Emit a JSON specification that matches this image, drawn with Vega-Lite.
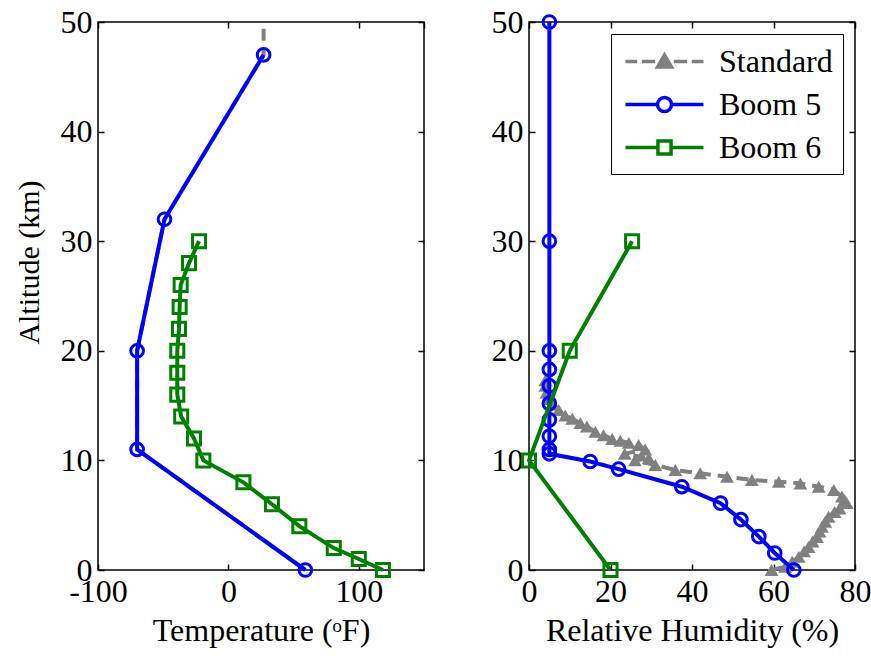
{
  "$schema": "https://vega.github.io/schema/vega-lite/v6.json",
  "padding": {"left": 13, "top": 5, "right": 5, "bottom": 5},
  "spacing": 64,
  "resolve": {"scale": {"color": "independent", "shape": "independent"}, "legend": {"color": "independent", "shape": "independent"}},
  "datasets": {
    "temp": [
      {"series": "Standard", "temp": 59, "alt": 0},
      {"series": "Standard", "temp": -70, "alt": 11},
      {"series": "Standard", "temp": -70, "alt": 20},
      {"series": "Standard", "temp": -49, "alt": 32},
      {"series": "Standard", "temp": 27, "alt": 47},
      {"series": "Standard", "temp": 27, "alt": 50},
      {"series": "Boom 5", "temp": 59, "alt": 0},
      {"series": "Boom 5", "temp": -70, "alt": 11},
      {"series": "Boom 5", "temp": -70, "alt": 20},
      {"series": "Boom 5", "temp": -49, "alt": 32},
      {"series": "Boom 5", "temp": 27, "alt": 47},
      {"series": "Boom 6", "temp": 118.5, "alt": 0},
      {"series": "Boom 6", "temp": 100, "alt": 1},
      {"series": "Boom 6", "temp": 80.8, "alt": 2},
      {"series": "Boom 6", "temp": 54.4, "alt": 4},
      {"series": "Boom 6", "temp": 33.4, "alt": 6},
      {"series": "Boom 6", "temp": 11.5, "alt": 8},
      {"series": "Boom 6", "temp": -19.2, "alt": 10},
      {"series": "Boom 6", "temp": -26.4, "alt": 12},
      {"series": "Boom 6", "temp": -36.2, "alt": 14},
      {"series": "Boom 6", "temp": -39.2, "alt": 16},
      {"series": "Boom 6", "temp": -39.2, "alt": 18},
      {"series": "Boom 6", "temp": -39.2, "alt": 20},
      {"series": "Boom 6", "temp": -37.9, "alt": 22},
      {"series": "Boom 6", "temp": -37.4, "alt": 24},
      {"series": "Boom 6", "temp": -36.6, "alt": 26},
      {"series": "Boom 6", "temp": -30.2, "alt": 28},
      {"series": "Boom 6", "temp": -22.5, "alt": 30}
    ],
    "rh": [
      {"series": "Standard", "rh": 59.5, "alt": 0},
      {"series": "Standard", "rh": 62.9, "alt": 0.3},
      {"series": "Standard", "rh": 64.6, "alt": 0.75},
      {"series": "Standard", "rh": 66.2, "alt": 1.2},
      {"series": "Standard", "rh": 67.5, "alt": 1.7},
      {"series": "Standard", "rh": 68.6, "alt": 2.1},
      {"series": "Standard", "rh": 69.6, "alt": 2.6},
      {"series": "Standard", "rh": 70.7, "alt": 3.0},
      {"series": "Standard", "rh": 71.3, "alt": 3.5},
      {"series": "Standard", "rh": 71.9, "alt": 3.95},
      {"series": "Standard", "rh": 72.7, "alt": 4.4},
      {"series": "Standard", "rh": 73.5, "alt": 4.86},
      {"series": "Standard", "rh": 75.0, "alt": 5.3},
      {"series": "Standard", "rh": 76.2, "alt": 5.6},
      {"series": "Standard", "rh": 78.0, "alt": 6.1},
      {"series": "Standard", "rh": 77.4, "alt": 6.4},
      {"series": "Standard", "rh": 76.8, "alt": 6.7},
      {"series": "Standard", "rh": 74.8, "alt": 7.3},
      {"series": "Standard", "rh": 71.1, "alt": 7.6},
      {"series": "Standard", "rh": 66.6, "alt": 7.9},
      {"series": "Standard", "rh": 61.3, "alt": 8.06},
      {"series": "Standard", "rh": 54.7, "alt": 8.21},
      {"series": "Standard", "rh": 48.6, "alt": 8.51},
      {"series": "Standard", "rh": 42.0, "alt": 8.82},
      {"series": "Standard", "rh": 35.9, "alt": 9.12},
      {"series": "Standard", "rh": 31.0, "alt": 9.58},
      {"series": "Standard", "rh": 26.0, "alt": 10.0},
      {"series": "Standard", "rh": 29.4, "alt": 10.2},
      {"series": "Standard", "rh": 23.5, "alt": 10.6},
      {"series": "Standard", "rh": 28.5, "alt": 11.0},
      {"series": "Standard", "rh": 26.9, "alt": 11.4},
      {"series": "Standard", "rh": 24.5, "alt": 11.6},
      {"series": "Standard", "rh": 22.4, "alt": 11.8},
      {"series": "Standard", "rh": 20.4, "alt": 11.95},
      {"series": "Standard", "rh": 18.3, "alt": 12.3},
      {"series": "Standard", "rh": 16.3, "alt": 12.6},
      {"series": "Standard", "rh": 14.2, "alt": 13.1},
      {"series": "Standard", "rh": 12.6, "alt": 13.4},
      {"series": "Standard", "rh": 10.6, "alt": 13.8},
      {"series": "Standard", "rh": 8.9, "alt": 14.1},
      {"series": "Standard", "rh": 7.3, "alt": 14.6},
      {"series": "Standard", "rh": 6.0, "alt": 15.1},
      {"series": "Standard", "rh": 5.0, "alt": 15.6},
      {"series": "Standard", "rh": 4.3, "alt": 16.2},
      {"series": "Standard", "rh": 4.0, "alt": 16.8},
      {"series": "Standard", "rh": 4.0, "alt": 17.3},
      {"series": "Boom 5", "rh": 65, "alt": 0},
      {"series": "Boom 5", "rh": 60.3, "alt": 1.55},
      {"series": "Boom 5", "rh": 56.4, "alt": 3.05},
      {"series": "Boom 5", "rh": 52, "alt": 4.6},
      {"series": "Boom 5", "rh": 47, "alt": 6.1},
      {"series": "Boom 5", "rh": 37.5, "alt": 7.6},
      {"series": "Boom 5", "rh": 22, "alt": 9.2},
      {"series": "Boom 5", "rh": 15, "alt": 9.9},
      {"series": "Boom 5", "rh": 5, "alt": 10.6},
      {"series": "Boom 5", "rh": 5, "alt": 11.0},
      {"series": "Boom 5", "rh": 5, "alt": 12.2},
      {"series": "Boom 5", "rh": 5, "alt": 13.7},
      {"series": "Boom 5", "rh": 5, "alt": 15.2},
      {"series": "Boom 5", "rh": 5, "alt": 16.8},
      {"series": "Boom 5", "rh": 5, "alt": 18.3},
      {"series": "Boom 5", "rh": 5, "alt": 20},
      {"series": "Boom 5", "rh": 5, "alt": 30},
      {"series": "Boom 5", "rh": 5, "alt": 50},
      {"series": "Boom 6", "rh": 20, "alt": 0},
      {"series": "Boom 6", "rh": 0, "alt": 10},
      {"series": "Boom 6", "rh": 10, "alt": 20},
      {"series": "Boom 6", "rh": 25.3, "alt": 30}
    ]
  },
  "hconcat": [
    {
      "width": 326,
      "height": 548,
      "data": {"name": "temp"},
      "resolve": {"axis": {"x": "independent", "y": "independent"}},
      "layer": [
        {
          "transform": [{"filter": "datum.series === 'Standard'"}],
          "mark": {"type": "line", "color": "#808080", "strokeWidth": 4, "strokeDash": [12, 7]},
          "encoding": {
            "x": {"field": "temp", "type": "quantitative", "scale": {"domain": [-100, 150], "nice": false, "zero": false},
              "axis": {"values": [-100, 0, 100], "title": "Temperature (ᵒF)", "labelExpr": "replace(datum.label, '\u2212', '-')"}},
            "y": {"field": "alt", "type": "quantitative", "scale": {"domain": [0, 50], "nice": false},
              "axis": {"values": [0, 10, 20, 30, 40, 50], "title": "Altitude (km)", "titleFontSize": 30, "titlePadding": 16, "titleY": 240}},
            "order": {"field": "alt"}
          }
        },
        {
          "transform": [{"filter": "datum.series === 'Boom 5'"}],
          "mark": {"type": "line", "color": "#0000FF", "strokeWidth": 4},
          "encoding": {
            "x": {"field": "temp", "type": "quantitative",
              "axis": {"orient": "top", "values": [-100, 0, 100, 150], "labels": false, "title": null}},
            "y": {"field": "alt", "type": "quantitative",
              "axis": {"orient": "right", "values": [0, 10, 20, 30, 40, 50], "labels": false, "title": null}},
            "order": {"field": "alt"}
          }
        },
        {
          "transform": [{"filter": "datum.series === 'Boom 5'"}],
          "mark": {"type": "point", "shape": "circle", "filled": false, "color": "#0000FF", "strokeWidth": 3, "size": 160, "opacity": 1},
          "encoding": {
            "x": {"field": "temp", "type": "quantitative", "axis": null},
            "y": {"field": "alt", "type": "quantitative", "axis": null}
          }
        },
        {
          "transform": [{"filter": "datum.series === 'Boom 6'"}],
          "mark": {"type": "line", "color": "#008000", "strokeWidth": 4},
          "encoding": {
            "x": {"field": "temp", "type": "quantitative", "axis": null},
            "y": {"field": "alt", "type": "quantitative", "axis": null},
            "order": {"field": "alt"}
          }
        },
        {
          "transform": [{"filter": "datum.series === 'Boom 6'"}],
          "mark": {"type": "point", "shape": "square", "filled": false, "color": "#008000", "strokeWidth": 3, "size": 170, "opacity": 1},
          "encoding": {
            "x": {"field": "temp", "type": "quantitative", "axis": null},
            "y": {"field": "alt", "type": "quantitative", "axis": null}
          }
        }
      ]
    },
    {
      "width": 326,
      "height": 548,
      "data": {"name": "rh"},
      "resolve": {"axis": {"x": "independent", "y": "independent"}},
      "layer": [
        {
          "transform": [{"filter": "datum.series === 'Standard'"}],
          "mark": {"type": "line", "color": "#808080", "strokeWidth": 4, "strokeDash": [12, 7]},
          "encoding": {
            "x": {"field": "rh", "type": "quantitative", "scale": {"domain": [0, 80], "nice": false},
              "axis": {"values": [0, 20, 40, 60, 80], "title": "Relative Humidity (%)"}},
            "y": {"field": "alt", "type": "quantitative", "scale": {"domain": [0, 50], "nice": false},
              "axis": {"values": [0, 10, 20, 30, 40, 50], "title": null}},
            "order": {"field": "alt"}
          }
        },
        {
          "transform": [{"filter": "datum.series === 'Standard'"}],
          "mark": {"type": "point", "shape": "triangle-up", "filled": true, "color": "#808080", "size": 190, "opacity": 1},
          "encoding": {
            "x": {"field": "rh", "type": "quantitative",
              "axis": {"orient": "top", "values": [0, 20, 40, 60, 80], "labels": false, "title": null}},
            "y": {"field": "alt", "type": "quantitative",
              "axis": {"orient": "right", "values": [0, 10, 20, 30, 40, 50], "labels": false, "title": null}}
          }
        },
        {
          "transform": [{"filter": "datum.series === 'Boom 5'"}],
          "mark": {"type": "line", "color": "#0000FF", "strokeWidth": 4},
          "encoding": {
            "x": {"field": "rh", "type": "quantitative", "axis": null},
            "y": {"field": "alt", "type": "quantitative", "axis": null},
            "order": {"field": "alt"}
          }
        },
        {
          "transform": [{"filter": "datum.series === 'Boom 5'"}],
          "mark": {"type": "point", "shape": "circle", "filled": false, "color": "#0000FF", "strokeWidth": 3, "size": 160, "opacity": 1},
          "encoding": {
            "x": {"field": "rh", "type": "quantitative", "axis": null},
            "y": {"field": "alt", "type": "quantitative", "axis": null}
          }
        },
        {
          "transform": [{"filter": "datum.series === 'Boom 6'"}],
          "mark": {"type": "line", "color": "#008000", "strokeWidth": 4},
          "encoding": {
            "x": {"field": "rh", "type": "quantitative", "axis": null},
            "y": {"field": "alt", "type": "quantitative", "axis": null},
            "order": {"field": "alt"}
          }
        },
        {
          "transform": [{"filter": "datum.series === 'Boom 6'"}],
          "mark": {"type": "point", "shape": "square", "filled": false, "color": "#008000", "strokeWidth": 3, "size": 170, "opacity": 1},
          "encoding": {
            "x": {"field": "rh", "type": "quantitative", "axis": null},
            "y": {"field": "alt", "type": "quantitative", "axis": null}
          }
        },
        {
          "transform": [{"filter": "false"}],
          "mark": {"type": "point", "filled": false, "strokeWidth": 3.5, "size": 973},
          "encoding": {
            "color": {"field": "series", "type": "nominal",
              "scale": {"domain": ["Standard", "Boom 5", "Boom 6"], "range": ["#808080", "#0000FF", "#008000"]},
              "legend": {"title": null, "orient": "top-right", "offset": 12, "padding": 10, "strokeColor": "black", "fillColor": "white",
                "labelFont": "Liberation Serif", "labelFontSize": 32, "labelColor": "black", "labelLimit": 400,
                "symbolSize": 973, "symbolStrokeWidth": 3.5, "symbolOffset": 26, "labelOffset": 37, "rowPadding": 9, "symbolOpacity": 1}},
            "shape": {"field": "series", "type": "nominal",
              "scale": {"domain": ["Standard", "Boom 5", "Boom 6"],
                "range": [
                  "M-2.5,0H-1.75M-1.45,0H-0.6M0.6,0H1.45M1.75,0H2.5M-0.45,0.36L0,-0.42L0.45,0.36ZM-0.22,0.2L0,-0.15L0.22,0.2Z",
                  "M-2.5,0H-0.45M0.45,0H2.5M-0.45,0A0.45,0.45 0 1,1 0.45,0A0.45,0.45 0 1,1 -0.45,0Z",
                  "M-2.5,0H-0.42M0.42,0H2.5M-0.42,-0.42H0.42V0.42H-0.42Z"
                ]},
              "legend": {"title": null, "orient": "top-right", "offset": 12, "padding": 10, "strokeColor": "black", "fillColor": "white",
                "labelFont": "Liberation Serif", "labelFontSize": 32, "labelColor": "black", "labelLimit": 400,
                "symbolSize": 973, "symbolStrokeWidth": 3.5, "symbolOffset": 26, "labelOffset": 37, "rowPadding": 9, "symbolOpacity": 1}}
          }
        }
      ]
    }
  ],
  "config": {
    "font": "Liberation Serif",
    "background": "white",
    "view": {"stroke": "black", "strokeWidth": 1.5},
    "axis": {
      "grid": false,
      "domain": false,
      "tickColor": "black",
      "tickWidth": 1.5,
      "tickSize": -6,
      "labelPadding": 12,
      "labelFlush": false,
      "labelFont": "Liberation Serif",
      "labelFontSize": 32,
      "labelColor": "black",
      "titleFont": "Liberation Serif",
      "titleFontSize": 32,
      "titleFontWeight": "normal",
      "titleColor": "black",
      "titlePadding": 8
    }
  }
}
